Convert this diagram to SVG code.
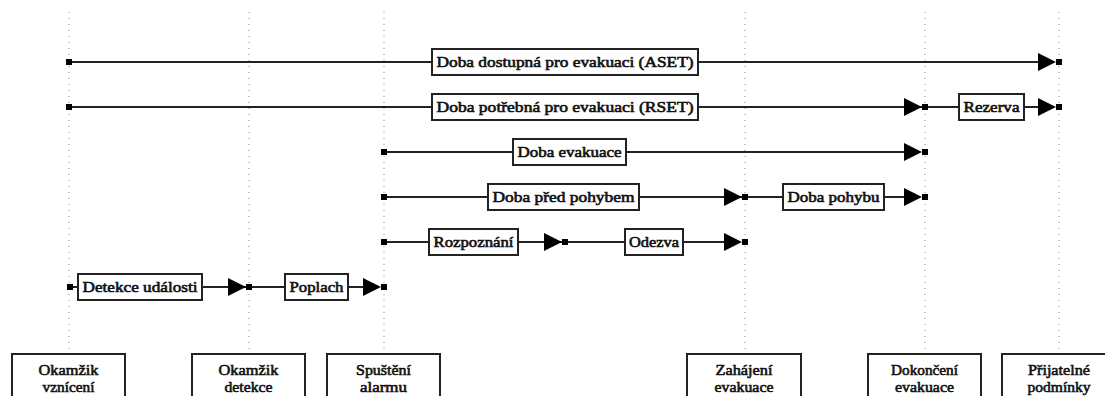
<svg xmlns="http://www.w3.org/2000/svg" xmlns:xlink="http://www.w3.org/1999/xlink" width="1105" height="396" viewBox="0 0 1105 396">
<style>
.guide{stroke:#888;stroke-width:1;stroke-dasharray:1 5;fill:none}
.bar{stroke:#222;stroke-width:2;fill:none}
.lbl{fill:#fff;stroke:#222;stroke-width:2}
.lt{font-family:'Liberation Serif','Times New Roman',serif;font-size:15.5px;fill:#111;stroke:#111;stroke-width:0.65;text-anchor:middle}
.nb{fill:#fff;stroke:#222;stroke-width:2}
.nt{font-family:'Liberation Serif','Times New Roman',serif;font-size:15px;fill:#111;stroke:#111;stroke-width:0.6;text-anchor:middle}
</style>
<defs>
<g id="sq"><rect x="-3" y="-3" width="6" height="6" fill="#000"/></g>
<g id="ar"><polygon points="-21,-9 -3,0 -21,9" fill="#000"/><rect x="-3" y="-3" width="6" height="6" fill="#000"/></g>
</defs>
<g id="guides">
<line class="guide" x1="69" y1="12" x2="69" y2="354"/>
<line class="guide" x1="249" y1="12" x2="249" y2="354"/>
<line class="guide" x1="384" y1="12" x2="384" y2="354"/>
<line class="guide" x1="745" y1="12" x2="745" y2="354"/>
<line class="guide" x1="925" y1="12" x2="925" y2="354"/>
<line class="guide" x1="1059" y1="12" x2="1059" y2="354"/>
</g>
<g id="connectors">
<line class="bar" x1="69" y1="62" x2="1050" y2="62"/>
<use xlink:href="#sq" x="69" y="62"/><use xlink:href="#ar" x="1059" y="62"/>
<rect class="lbl" x="432" y="49" width="266" height="26"/>
<text class="lt" x="565" y="67" textLength="257" lengthAdjust="spacingAndGlyphs">Doba dostupná pro evakuaci (ASET)</text>
<line class="bar" x1="69" y1="107" x2="1050" y2="107"/>
<use xlink:href="#sq" x="69" y="107"/><use xlink:href="#ar" x="925" y="107"/><use xlink:href="#ar" x="1059" y="107"/>
<rect class="lbl" x="432" y="94" width="266" height="26"/>
<text class="lt" x="565" y="112" textLength="257" lengthAdjust="spacingAndGlyphs">Doba potřebná pro evakuaci (RSET)</text>
<rect class="lbl" x="959" y="94" width="65" height="26"/>
<text class="lt" x="991.5" y="112" textLength="56" lengthAdjust="spacingAndGlyphs">Rezerva</text>
<line class="bar" x1="384" y1="152" x2="916" y2="152"/>
<use xlink:href="#sq" x="384" y="152"/><use xlink:href="#ar" x="925" y="152"/>
<rect class="lbl" x="513" y="139" width="113" height="26"/>
<text class="lt" x="569.5" y="157" textLength="104" lengthAdjust="spacingAndGlyphs">Doba evakuace</text>
<line class="bar" x1="384" y1="197" x2="916" y2="197"/>
<use xlink:href="#sq" x="384" y="197"/><use xlink:href="#ar" x="745" y="197"/><use xlink:href="#ar" x="925" y="197"/>
<rect class="lbl" x="488" y="184" width="151" height="26"/>
<text class="lt" x="563.5" y="202" textLength="142" lengthAdjust="spacingAndGlyphs">Doba před pohybem</text>
<rect class="lbl" x="783" y="184" width="101" height="26"/>
<text class="lt" x="833.5" y="202" textLength="92" lengthAdjust="spacingAndGlyphs">Doba pohybu</text>
<line class="bar" x1="384" y1="242" x2="736" y2="242"/>
<use xlink:href="#sq" x="384" y="242"/><use xlink:href="#ar" x="565" y="242"/><use xlink:href="#ar" x="745" y="242"/>
<rect class="lbl" x="429" y="229" width="89" height="26"/>
<text class="lt" x="473.5" y="247" textLength="80" lengthAdjust="spacingAndGlyphs">Rozpoznání</text>
<rect class="lbl" x="625" y="229" width="58" height="26"/>
<text class="lt" x="654" y="247" textLength="50" lengthAdjust="spacingAndGlyphs">Odezva</text>
<line class="bar" x1="69" y1="287" x2="376" y2="287"/>
<use xlink:href="#sq" x="70" y="287"/><use xlink:href="#ar" x="249" y="287"/><use xlink:href="#ar" x="384" y="287"/>
<rect class="lbl" x="78" y="274" width="124" height="26"/>
<text class="lt" x="140" y="292" textLength="115" lengthAdjust="spacingAndGlyphs">Detekce události</text>
<rect class="lbl" x="285" y="274" width="63" height="26"/>
<text class="lt" x="316.5" y="292" textLength="54" lengthAdjust="spacingAndGlyphs">Poplach</text>
</g>
<g id="n-vzniceni"><rect class="nb" x="12" y="354" width="113" height="60"/><text class="nt" x="68.5" y="375" textLength="60" lengthAdjust="spacingAndGlyphs">Okamžik</text><text class="nt" x="68.5" y="392" textLength="52" lengthAdjust="spacingAndGlyphs">vznícení</text></g>
<g id="n-detekce"><rect class="nb" x="192" y="354" width="113" height="60"/><text class="nt" x="248.5" y="375" textLength="60" lengthAdjust="spacingAndGlyphs">Okamžik</text><text class="nt" x="248.5" y="392" textLength="48" lengthAdjust="spacingAndGlyphs">detekce</text></g>
<g id="n-alarm"><rect class="nb" x="327" y="354" width="113" height="60"/><text class="nt" x="383.5" y="375" textLength="55" lengthAdjust="spacingAndGlyphs">Spuštění</text><text class="nt" x="383.5" y="392" textLength="47" lengthAdjust="spacingAndGlyphs">alarmu</text></g>
<g id="n-zahajeni"><rect class="nb" x="687" y="354" width="114" height="60"/><text class="nt" x="744" y="375" textLength="57" lengthAdjust="spacingAndGlyphs">Zahájení</text><text class="nt" x="744" y="392" textLength="59" lengthAdjust="spacingAndGlyphs">evakuace</text></g>
<g id="n-dokonceni"><rect class="nb" x="868" y="354" width="113" height="60"/><text class="nt" x="924.5" y="375" textLength="67" lengthAdjust="spacingAndGlyphs">Dokončení</text><text class="nt" x="924.5" y="392" textLength="59" lengthAdjust="spacingAndGlyphs">evakuace</text></g>
<g id="n-podminky"><rect class="nb" x="1002" y="354" width="114" height="60"/><text class="nt" x="1059" y="375" textLength="62" lengthAdjust="spacingAndGlyphs">Přijatelné</text><text class="nt" x="1059" y="392" textLength="63" lengthAdjust="spacingAndGlyphs">podmínky</text></g>
</svg>
